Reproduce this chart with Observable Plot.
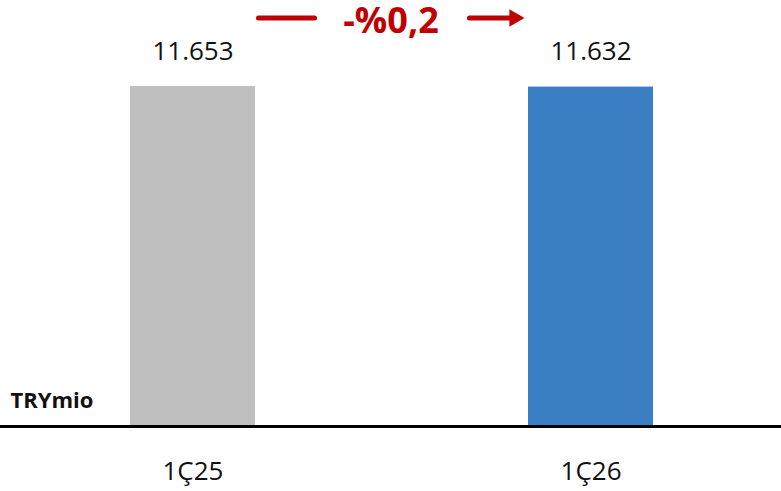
<!DOCTYPE html>
<html>
<head>
<meta charset="utf-8">
<script src="https://cdn.jsdelivr.net/npm/d3@7"></script>
<script src="https://cdn.jsdelivr.net/npm/@observablehq/plot@0.6"></script>
<style>
  html, body { margin: 0; padding: 0; background: #fff; }
  #chart { width: 781px; height: 491px; }
</style>
</head>
<body>
<div id="chart"></div>
<script>
// Quarterly totals (TRY million)
const categories = ["1Ç25", "1Ç26"];
const values = [11653, 11632];
const barColors = ["#bfbfbf", "#3a7ec4"];
const changeLabel = "-%0,2";
const unitLabel = "TRYmio";

const red = "#c00000";
const font = "'Open Sans', 'Noto Sans', sans-serif";

// Turkish number formatting: 11653 -> "11.653"
const trFormat = d3.formatLocale({decimal: ",", thousands: ".", grouping: [3], currency: ["", ""]}).format(",d");

const bars = categories.map((c, i) => ({category: c, value: values[i], color: barColors[i], label: trFormat(values[i])}));

// Level (in data units) of the change arrow drawn above the bars
const arrowLevel = 14000;
const link = [{from: categories[0], to: categories[1], y: arrowLevel}];
const head = [{category: categories[1], y: arrowLevel}];

const chart = Plot.plot({
  width: 781,
  height: 491,
  marginTop: 0,
  marginRight: 0,
  marginBottom: 65,
  marginLeft: 0,
  style: {fontFamily: font, fontSize: "26px", color: "#111", background: "#fff", overflow: "visible"},
  x: {type: "band", domain: categories, range: [10.6, 772.4], paddingInner: 0.686, paddingOuter: 0.3, round: false},
  y: {domain: [0, 14600], axis: null},
  marks: [
    Plot.barY(bars, {x: "category", y: "value", fill: "color"}),
    Plot.ruleY([0], {stroke: "#000", strokeWidth: 3}),
    Plot.axisX({tickSize: 0, tickPadding: 35, fontSize: 26, label: null, fontFamily: font}),
    Plot.text(bars, {x: "category", y: "value", text: "label", lineAnchor: "middle", dy: -35, fontSize: 26, fill: "#111"}),
    Plot.text([unitLabel], {frameAnchor: "bottom-left", textAnchor: "start", lineAnchor: "middle", dx: 10, dy: -26, fontSize: 22, fontWeight: "bold", fill: "#111"}),
    // change arrow: left stroke, right stroke with head, label in the gap
    Plot.arrow(link, {x1: "from", x2: "to", y1: "y", y2: "y", stroke: red, strokeWidth: 5, headLength: 0, insetStart: 65.5, insetEnd: 276.5}),
    Plot.arrow(link, {x1: "from", x2: "to", y1: "y", y2: "y", stroke: red, strokeWidth: 5, headLength: 0, insetStart: 276.5, insetEnd: 80}),
    Plot.dot(head, {x: "category", y: "y", symbol: "triangle", r: 6.5, rotate: 90, fill: red, stroke: "none", dx: -76.6}),
    Plot.text([changeLabel], {y: () => arrowLevel, text: d => d, lineAnchor: "middle", dy: 3, fontSize: 36, fontWeight: "bold", fill: red})
  ]
});

document.getElementById("chart").appendChild(chart);
</script>
</body>
</html>
